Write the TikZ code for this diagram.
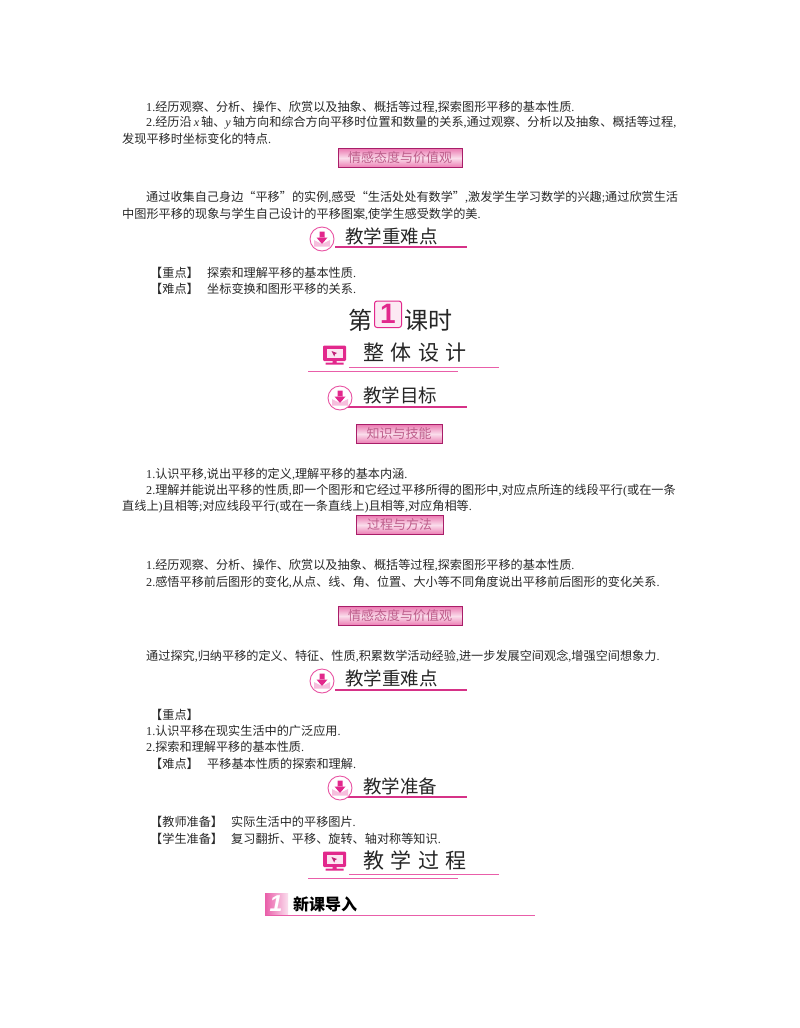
\documentclass[tikz,border=0pt]{standalone}
\usepackage{fontspec}
\setmainfont{Noto Sans CJK SC}
\newfontfamily\ltnfont{Liberation Serif}
\newfontfamily\hvfont{Liberation Sans}
\newcommand{\ltn}[1]{{\ltnfont #1}}
\newcommand{\itn}[1]{{\ltnfont\itshape #1}}
\usetikzlibrary{shadings}
\definecolor{mypink}{RGB}{226,40,140}
\definecolor{linepink}{RGB}{214,50,135}
\definecolor{bannerpink}{RGB}{232,100,165}
\definecolor{bannerink}{RGB}{190,95,140}
\definecolor{bodyink}{RGB}{40,40,40}
\pgfdeclarehorizontalshading{bannershade}{100bp}{
  color(0bp)=(bannerpink); color(38bp)=(bannerpink!75!white); color(50bp)=(bannerpink!25!white);
  color(62bp)=(bannerpink!25!white); color(100bp)=(bannerpink!80!white)}
\tikzset{
  bodytext/.style={anchor=west,inner sep=0pt,yshift=-1pt,font=\fontsize{12.15}{12.15}\selectfont,text=bodyink},
  bannertext/.style={inner sep=0pt,text=bannerink,font=\fontsize{13}{13}\selectfont},
  headtext/.style={anchor=west,inner sep=0pt,font=\fontsize{18.5}{18.5}\selectfont,text=black!85},
  widehead/.style={anchor=west,inner sep=0pt,font=\fontsize{21}{21}\selectfont,text=black!85},
  bigtext/.style={anchor=center,inner sep=0pt,font=\fontsize{24}{24}\selectfont,text=black!85},
  pinkline/.style={draw=linepink,line width=1.2pt},
  thinline/.style={draw=mypink!75,line width=.8pt},
}
% banner: centre x, centre y, half width, name, text
\newcommand{\banner}[5]{%
  \shade[top color=bannerpink!85!white,bottom color=bannerpink!85!white,middle color=bannerpink!22!white,draw=mypink!75!black,line width=.7pt]
    (#1-#3,#2-9.5) rectangle (#1+#3,#2+9.5);
  \node[bannertext] (#4) at (#1,#2) {#5};
}
% round arrow icon
\newcommand{\arrowicon}[3]{%
  \coordinate (#3) at (#1,#2);
  \fill[white] (#1,#2) circle (12);
  \fill[mypink!30] (#1-8,#2+1) -- (#1,#2+5) -- (#1+8,#2+1) -- (#1+8,#2+7.5) -- (#1-8,#2+7.5) -- cycle;
  \draw[mypink!80,line width=.9pt] (#1,#2) circle (12);
  \fill[mypink] (#1-2.5,#2-7.5) rectangle (#1+2.5,#2-1) (#1-5.5,#2-1.5) -- (#1+5.5,#2-1.5) -- (#1,#2+5) -- cycle;
}
% monitor icon
\newcommand{\monicon}[3]{%
  \coordinate (#3) at (#1,#2);
  \fill[mypink,rounded corners=1.2pt] (#1-11.5,#2-9.5) rectangle (#1+11.5,#2+6);
  \fill[mypink!12] (#1-8,#2-6.5) rectangle (#1+8,#2+3);
  \fill[mypink!85!black] (#1-3,#2-4) -- (#1+2.5,#2-2) -- (#1+.5,#2-.7) -- (#1-.2,#2+1.6) -- cycle;
  \fill[mypink] (#1-2,#2+6) rectangle (#1+2,#2+8) (#1-9,#2+7.5) rectangle (#1+9,#2+9.5);
}
\begin{document}
\begin{tikzpicture}[x=1pt,y=-1pt]
\useasboundingbox (0,0) rectangle (800,1028);
\fill[white] (0,0) rectangle (800,1028);

\node[bodytext] (a1) at (146,106.5) {\ltn{1.}经历观察、分析、操作、欣赏以及抽象、概括等过程\ltn{,}探索图形平移的基本性质\ltn{.}};
\node[bodytext] (a2) at (146,122) {\ltn{2.}经历沿\hspace{2pt}\itn{x}\hspace{2pt}轴、\itn{y}\hspace{2pt}轴方向和综合方向平移时位置和数量的关系\ltn{,}通过观察、分析以及抽象、概括等过程\ltn{,}};
\node[bodytext] (a3) at (122,138) {发现平移时坐标变化的特点\ltn{.}};
\banner{400}{158}{62}{b1}{情感态度与价值观}
\node[bodytext] (a4) at (146,196) {通过收集自己身边“平移”的实例\ltn{,}感受“生活处处有数学”\ltn{,}激发学生学习数学的兴趣\ltn{;}通过欣赏生活};
\node[bodytext] (a5) at (122,213) {中图形平移的现象与学生自己设计的平移图案\ltn{,}使学生感受数学的美\ltn{.}};
\draw[pinkline] (335,247) -- (467,247);
\arrowicon{322}{239}{i1}
\node[headtext] (h1) at (345,236) {教学重难点};
\node[bodytext] (a6) at (150,271.5) {【重点】};
\node[bodytext] (a6b) at (207,271.5) {探索和理解平移的基本性质\ltn{.}};
\node[bodytext] (a7) at (150,288) {【难点】};
\node[bodytext] (a7b) at (207,288) {坐标变换和图形平移的关系\ltn{.}};

\node[bigtext] (t1) at (360,320) {第};
\draw[mypink,fill=mypink!10,line width=1pt,rounded corners=2.5pt] (374.5,301) rectangle (401.5,327.5);
\node[inner sep=0pt,text=mypink,font=\hvfont\bfseries\fontsize{28}{28}\selectfont] (t2) at (388,314) {1};
\node[bigtext] (t3) at (428,320) {课时};

\monicon{334.5}{355}{m1}
\node[widehead] (h2) at (363,353) {整\hspace{6.5pt}体\hspace{6.5pt}设\hspace{6.5pt}计};
\draw[thinline] (349,367) -- (499,367);
\draw[thinline] (308,371) -- (458,371);

\draw[pinkline] (347,407) -- (467,407);
\arrowicon{340}{398}{i2}
\node[headtext] (h3) at (363,395) {教学目标};
\banner{399}{434}{43}{b2}{知识与技能}

\node[bodytext] (c1) at (146,473) {\ltn{1.}认识平移\ltn{,}说出平移的定义\ltn{,}理解平移的基本内涵\ltn{.}};
\node[bodytext] (c2) at (146,489.5) {\ltn{2.}理解并能说出平移的性质\ltn{,}即一个图形和它经过平移所得的图形中\ltn{,}对应点所连的线段平行\ltn{(}或在一条};
\node[bodytext] (c3) at (122,506) {直线上\ltn{)}且相等\ltn{;}对应线段平行\ltn{(}或在一条直线上\ltn{)}且相等\ltn{,}对应角相等\ltn{.}};
\banner{399.5}{525}{43.5}{b3}{过程与方法}
\node[bodytext] (c4) at (146,564) {\ltn{1.}经历观察、分析、操作、欣赏以及抽象、概括等过程\ltn{,}探索图形平移的基本性质\ltn{.}};
\node[bodytext] (c5) at (146,581) {\ltn{2.}感悟平移前后图形的变化\ltn{,}从点、线、角、位置、大小等不同角度说出平移前后图形的变化关系\ltn{.}};
\banner{400}{616}{62}{b4}{情感态度与价值观}
\node[bodytext] (c6) at (146,655) {通过探究\ltn{,}归纳平移的定义、特征、性质\ltn{,}积累数学活动经验\ltn{,}进一步发展空间观念\ltn{,}增强空间想象力\ltn{.}};
\draw[pinkline] (335,690) -- (467,690);
\arrowicon{322}{681}{i3}
\node[headtext] (h4) at (345,678) {教学重难点};

\node[bodytext] (d1) at (150,713.5) {【重点】};
\node[bodytext] (d2) at (146,730) {\ltn{1.}认识平移在现实生活中的广泛应用\ltn{.}};
\node[bodytext] (d3) at (146,746) {\ltn{2.}探索和理解平移的基本性质\ltn{.}};
\node[bodytext] (d4) at (150,762.5) {【难点】};
\node[bodytext] (d4b) at (207,762.5) {平移基本性质的探索和理解\ltn{.}};
\draw[pinkline] (347,797) -- (467,797);
\arrowicon{340}{788}{i4}
\node[headtext] (h5) at (363,786) {教学准备};
\node[bodytext] (e1) at (150,821) {【教师准备】};
\node[bodytext] (e1b) at (231,821) {实际生活中的平移图片\ltn{.}};
\node[bodytext] (e2) at (150,837.5) {【学生准备】};
\node[bodytext] (e2b) at (231,837.5) {复习翻折、平移、旋转、轴对称等知识\ltn{.}};
\monicon{334.5}{861}{m2}
\node[widehead] (h6) at (363,860) {教\hspace{6.5pt}学\hspace{6.5pt}过\hspace{6.5pt}程};
\draw[thinline] (349,874) -- (499,874);
\draw[thinline] (308,878) -- (458,878);

\shade[left color=mypink!75,right color=mypink!15] (265,893) rectangle (288,915);
\node[inner sep=0pt,text=white,font=\hvfont\bfseries\itshape\fontsize{23}{23}\selectfont] (n1) at (276,904) {1};
\draw[thinline,line width=.9pt] (265,915.5) -- (535,915.5);
\node[anchor=west,inner sep=0pt,font=\bfseries\fontsize{16}{16}\selectfont,text=black] (h7) at (293,904.5) {新课导入};
\end{tikzpicture}
\end{document}
